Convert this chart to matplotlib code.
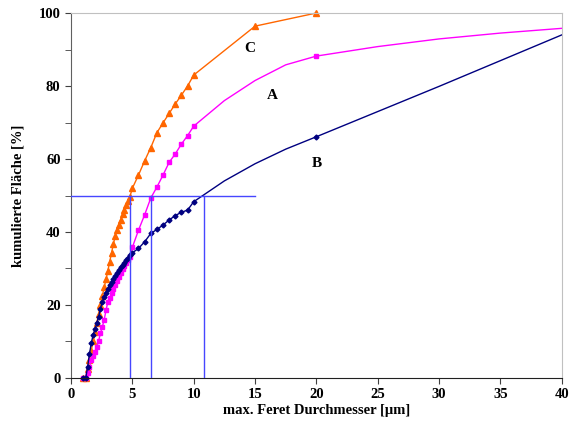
import matplotlib
matplotlib.use("Agg")
import matplotlib.pyplot as plt
from matplotlib.ticker import MultipleLocator

# Feret diameter steps (um): fine region below 5 um, then 0.5 um steps, then coarse
feret_fine = [1.0, 1.2, 1.35, 1.5, 1.65, 1.8, 1.95, 2.1, 2.25, 2.4, 2.55, 2.7, 2.85,
              3.0, 3.15, 3.3, 3.45, 3.6, 3.75, 3.9, 4.05, 4.2, 4.35, 4.5, 4.65, 4.8]
feret_mid = [5.0, 5.5, 6.0, 6.5, 7.0, 7.5, 8.0, 8.5, 9.0, 9.5, 10.0]

# sample A (magenta)
a_x = feret_fine + feret_mid + [12.5, 15, 17.5, 20, 25, 30, 35, 40]
a_y = [0, 0, 1.5, 3.0, 4.8, 6.0, 7.2, 8.5, 10.2, 12.2, 14.0, 15.9, 18.5,
       20.8, 22.0, 23.2, 24.4, 25.5, 26.6, 27.7, 28.8, 29.9, 30.8, 31.6, 32.4, 33.2,
       35.8, 40.5, 44.7, 49.3, 52.3, 55.6, 59.1, 61.4, 64.1, 66.4, 69.0,
       76.0, 81.5, 85.8, 88.2, 90.8, 92.9, 94.5, 95.8]
a_marked = [True] * 37 + [False, False, False, True, False, False, False, False]

# sample B (navy)
b_x = feret_fine + feret_mid + [12.5, 15, 17.5, 20, 30, 40]
b_y = [0, 0, 3.0, 6.5, 9.5, 11.8, 13.3, 15.0, 16.8, 19.0, 20.9, 22.2, 23.4,
       24.5, 25.5, 26.3, 27.0, 27.9, 28.9, 29.6, 30.3, 31.0, 31.6, 32.2, 32.9, 33.6,
       34.3, 35.5, 37.3, 39.6, 40.7, 41.9, 43.3, 44.5, 45.4, 46.0, 48.3,
       54.0, 58.7, 62.7, 66.1, 79.9, 94.0]
b_marked = [True] * 37 + [False, False, False, True, False, False]

# sample C (orange)
c_x = feret_fine + feret_mid + [15, 20]
c_y = [0, 0, 2.5, 5.0, 7.5, 10.0, 12.5, 15.0, 17.5, 20.0, 22.5, 24.8, 27.0,
       29.3, 31.8, 34.2, 36.7, 38.8, 40.6, 42.0, 43.4, 44.8, 46.1, 47.3, 48.6, 49.7,
       52.0, 55.6, 59.5, 63.1, 67.2, 69.9, 72.5, 75.1, 77.5, 80.0, 83.0,
       96.4, 100.0]

# d50 read-off lines
d50_level = 50
d50_values = [4.8, 6.5, 10.8]
d50_line_end = 15

plt.rcParams['font.family'] = ['Liberation Serif', 'DejaVu Serif']
plt.rcParams['font.weight'] = 'bold'

fig = plt.figure(figsize=(5.75, 4.25), dpi=100)
ax = fig.add_axes([0.1235, 0.1106, 0.8535, 0.8588])

ax.plot(c_x, c_y, color='#FF6600', lw=1.0, marker='^', ms=3.8, mec='#FF6600',
        clip_on=False, zorder=2)
ax.plot(a_x, a_y, color='#FF00FF', lw=1.0, marker='s', ms=3.3, mec='#FF00FF',
        markevery=a_marked, clip_on=False, zorder=2)
ax.plot(b_x, b_y, color='#000080', lw=1.0, marker='D', ms=2.5, mec='#000080',
        markevery=b_marked, clip_on=False, zorder=2)

ref_color = '#4646FF'
ax.plot([0, d50_line_end], [d50_level, d50_level], color=ref_color, lw=1, zorder=3)
for d in d50_values:
    ax.plot([d, d], [0, d50_level], color=ref_color, lw=1, zorder=3)

ax.text(14.6, 90.4, 'C', fontsize=11, fontweight='bold', ha='center', va='center')
ax.text(16.4, 77.3, 'A', fontsize=11, fontweight='bold', ha='center', va='center')
ax.text(20.0, 58.9, 'B', fontsize=11, fontweight='bold', ha='center', va='center')

ax.set_xlim(0, 40)
ax.set_ylim(0, 100)
ax.xaxis.set_major_locator(MultipleLocator(5))
ax.yaxis.set_major_locator(MultipleLocator(20))
ax.yaxis.set_minor_locator(MultipleLocator(10))
ax.tick_params(axis='both', which='both', direction='out', labelsize=10.5,
               color='#404040')
ax.tick_params(axis='both', which='major', length=4)
ax.tick_params(axis='y', which='minor', length=4)
for lbl in ax.get_xticklabels() + ax.get_yticklabels():
    lbl.set_fontweight('bold')

ax.spines['left'].set_color('#606060')
ax.spines['bottom'].set_color('#202020')
ax.spines['top'].set_color('#C0C0C0')
ax.spines['right'].set_color('#C0C0C0')

ax.set_xlabel('max. Feret Durchmesser [µm]', fontsize=10.5, fontweight='bold', labelpad=2)
ax.set_ylabel('kumulierte Fläche [%]', fontsize=10.5, fontweight='bold', labelpad=10)

fig.savefig('out.png', dpi=100)
